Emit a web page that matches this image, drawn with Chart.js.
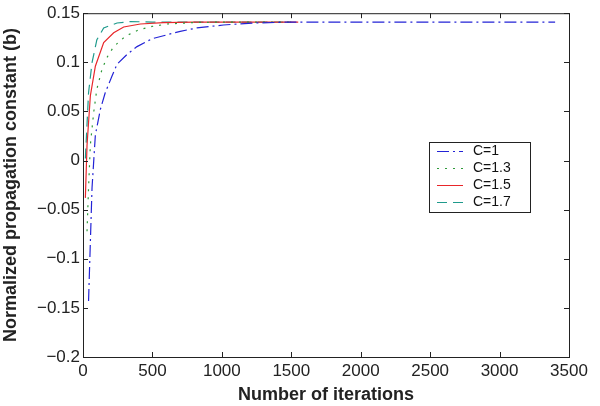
<!DOCTYPE html>
<html>
<head>
<meta charset="utf-8">
<script src="https://cdn.jsdelivr.net/npm/chart.js@4/dist/chart.umd.min.js"></script>
<style>
  html, body { margin: 0; padding: 0; background: #fff; }
  #wrap { width: 600px; height: 406px; }
</style>
</head>
<body>
<div id="wrap"><canvas id="convChart" width="600" height="406"></canvas></div>
<script>
// values
const seriesLabels = ['C=1', 'C=1.3', 'C=1.5', 'C=1.7'];

const itersC1  = [40, 65, 89, 125, 160, 209, 245, 317, 389, 497, 605, 700, 820, 1011, 1227, 1500, 2000, 2500, 3000, 3400];
const bC1      = [-0.143, -0.028, 0.026, 0.052, 0.069, 0.086, 0.098, 0.108, 0.116, 0.124, 0.128, 0.1315, 0.135, 0.138, 0.140, 0.141, 0.141, 0.141, 0.141, 0.141];

const itersC13 = [29, 40, 53, 77, 100, 137, 173, 221, 305, 400, 497, 605, 800, 1000, 1500];
const bC13     = [-0.072, -0.028, 0.016, 0.049, 0.073, 0.093, 0.105, 0.116, 0.1265, 0.133, 0.1365, 0.139, 0.1405, 0.141, 0.141];

const itersC15 = [17, 29, 53, 89, 149, 221, 293, 413, 579, 800, 1000, 1550];
const bC15     = [-0.038, 0.0155, 0.066, 0.096, 0.120, 0.130, 0.136, 0.139, 0.1405, 0.141, 0.141, 0.141];

const itersC17 = [17, 40, 65, 100, 149, 245, 341, 500, 1000, 1500];
const bC17     = [0.002, 0.069, 0.0996, 0.123, 0.135, 0.140, 0.1415, 0.141, 0.141, 0.141];

const xTicks = [0, 500, 1000, 1500, 2000, 2500, 3000, 3500];
const yTicks = [-0.2, -0.15, -0.1, -0.05, 0, 0.05, 0.1, 0.15];

const pts = (xs, ys) => xs.map((x, i) => ({ x: x, y: ys[i] }));

const styles = [
    { color: '#2323d6', dash: [12, 4, 2, 4] },
    { color: '#2f9a3a', dash: [2, 6] },
    { color: '#e8262a', dash: [] },
    { color: '#1f9a8c', dash: [10, 6] },
];

const fontFam = '"Liberation Sans", Arial, sans-serif';

// box + inward ticks + legend, matlab style
const framePlugin = {
    id: 'frame',
    afterDatasetsDraw(chart) {
        const { ctx, chartArea: a, scales } = chart;
        ctx.save();
        ctx.strokeStyle = '#222';
        ctx.lineWidth = 1;
        ctx.strokeRect(a.left + 0.5, a.top + 0.5, a.right - a.left, a.bottom - a.top);
        ctx.beginPath();
        xTicks.forEach(v => {
            const px = Math.round(scales.x.getPixelForValue(v)) + 0.5;
            ctx.moveTo(px, a.bottom); ctx.lineTo(px, a.bottom - 5);
            ctx.moveTo(px, a.top); ctx.lineTo(px, a.top + 5);
        });
        yTicks.forEach(v => {
            const py = Math.round(scales.y.getPixelForValue(v)) + 0.5;
            ctx.moveTo(a.left, py); ctx.lineTo(a.left + 5, py);
            ctx.moveTo(a.right, py); ctx.lineTo(a.right - 5, py);
        });
        ctx.stroke();

        // legend box
        const bx = 429, by = 142, bw = 101, bh = 70;
        ctx.fillStyle = '#fff';
        ctx.fillRect(bx, by, bw, bh);
        ctx.strokeStyle = '#222';
        ctx.strokeRect(bx + 0.5, by + 0.5, bw, bh);
        ctx.font = '14px ' + fontFam;
        ctx.textBaseline = 'middle';
        const rows = [151, 168, 185, 202];
        chart.data.datasets.forEach((ds, i) => {
            ctx.strokeStyle = ds.borderColor;
            ctx.setLineDash(ds.borderDash);
            ctx.beginPath();
            ctx.moveTo(437, rows[i] + 0.5);
            ctx.lineTo(463, rows[i] + 0.5);
            ctx.stroke();
            ctx.setLineDash([]);
            ctx.fillStyle = '#111';
            ctx.fillText(ds.label, 473, rows[i]);
        });
        ctx.restore();
    }
};

new Chart(document.getElementById('convChart'), {
    type: 'line',
    data: {
        datasets: [
            pts(itersC1, bC1), pts(itersC13, bC13), pts(itersC15, bC15), pts(itersC17, bC17)
        ].map((d, i) => ({
            label: seriesLabels[i],
            data: d,
            borderColor: styles[i].color,
            borderDash: styles[i].dash,
            borderWidth: 1.2,
            pointRadius: 0,
            tension: 0,
            fill: false,
        }))
    },
    options: {
        responsive: false,
        animation: false,
        layout: { padding: { top: 10, right: 31, left: 0, bottom: 0 } },
        plugins: { legend: { display: false }, tooltip: { enabled: false } },
        scales: {
            x: {
                type: 'linear',
                min: 0, max: 3500,
                afterBuildTicks: s => { s.ticks = xTicks.map(v => ({ value: v })); },
                afterFit: s => { s.height = 49; },
                grid: { display: false, drawTicks: false },
                border: { display: false },
                ticks: { color: '#222', font: { family: fontFam, size: 17 }, padding: 4, maxRotation: 0,
                         callback: v => String(v) },
                title: { display: true, text: 'Number of iterations', color: '#222',
                         font: { family: fontFam, size: 18, weight: 'bold' }, padding: { top: 0, bottom: 0 } }
            },
            y: {
                min: -0.2, max: 0.15,
                afterBuildTicks: s => { s.ticks = yTicks.map(v => ({ value: v })); },
                afterFit: s => { s.width = 83; },
                grid: { display: false, drawTicks: false },
                border: { display: false },
                ticks: {
                    color: '#222', font: { family: fontFam, size: 17 }, padding: 3,
                    callback: v => v === 0 ? '0' : String(Number(v.toFixed(2))).replace('-', '\u2212')
                },
                title: { display: true, text: 'Normalized propagation constant (b)', color: '#222',
                         font: { family: fontFam, size: 18, weight: 'bold' }, padding: { top: 0, bottom: 0 } }
            }
        }
    },
    plugins: [framePlugin]
});
</script>
</body>
</html>
